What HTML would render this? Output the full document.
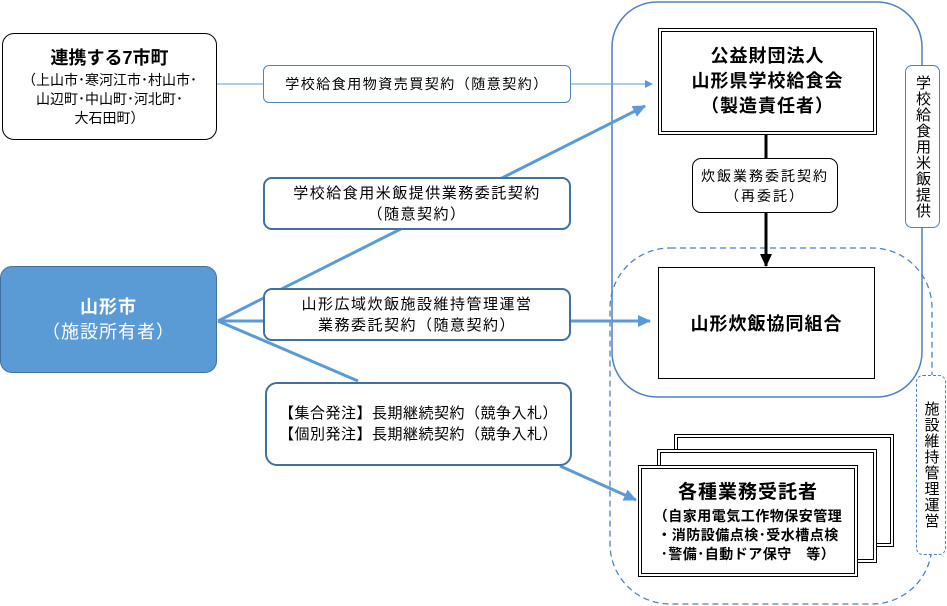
<!DOCTYPE html>
<html><head><meta charset="utf-8"><style>
body{margin:0;width:947px;height:606px;background:#fff;position:relative;overflow:hidden;font-family:"Liberation Sans","Noto Sans CJK JP",sans-serif;color:#000}
.b{position:absolute;box-sizing:border-box;display:flex;flex-direction:column;align-items:center;justify-content:center;text-align:center;background:#fff;white-space:nowrap}
.v{writing-mode:vertical-rl;letter-spacing:1px}
</style></head><body>
<svg width="947" height="606" style="position:absolute;left:0;top:0">
<defs>
<marker id="a" markerWidth="8" markerHeight="8" refX="7" refY="4" orient="auto" markerUnits="userSpaceOnUse"><path d="M0,0L8,4L0,8z" fill="#5b9bd5"/></marker>
<marker id="a2" markerWidth="14" markerHeight="12" refX="12" refY="6" orient="auto" markerUnits="userSpaceOnUse"><path d="M0,0L13,6L0,12z" fill="#5b9bd5"/></marker>
<marker id="k" markerWidth="14" markerHeight="12" refX="12" refY="6" orient="auto" markerUnits="userSpaceOnUse"><path d="M0,0L13,6L0,12z" fill="#000"/></marker>
</defs>
<rect x="612" y="2" width="310" height="395" rx="45" fill="none" stroke="#4f81bd" stroke-width="1.5"/>
<rect x="610" y="248" width="322" height="356" rx="60" fill="none" stroke="#4f81bd" stroke-width="1.3" stroke-dasharray="6,4"/>
<line x1="217" y1="84" x2="652" y2="84" stroke="#5b9bd5" stroke-width="1" marker-end="url(#a)"/>
<line x1="218" y1="321" x2="645" y2="106" stroke="#5b9bd5" stroke-width="3" marker-end="url(#a2)"/>
<line x1="218" y1="321" x2="650" y2="321" stroke="#5b9bd5" stroke-width="3" marker-end="url(#a2)"/>
<line x1="218" y1="321" x2="358" y2="381" stroke="#5b9bd5" stroke-width="3"/>
<line x1="560" y1="466" x2="636" y2="500" stroke="#5b9bd5" stroke-width="3" marker-end="url(#a2)"/>
<line x1="766" y1="135" x2="766" y2="158" stroke="#000" stroke-width="3"/>
<line x1="766" y1="213" x2="766" y2="266" stroke="#000" stroke-width="3" marker-end="url(#k)"/>
</svg>
<div class="b" style="left:2px;top:33px;width:215px;height:107px;border:1.5px solid #000;border-radius:12px;font-size:14px;line-height:19px"><b style="font-size:18px;line-height:25px">連携する7市町</b>（上山市･寒河江市･村山市･<br>山辺町･中山町･河北町･<br>大石田町）</div>
<div class="b" style="left:0;top:266px;width:217px;height:107px;background:#5b9bd5;border:1.5px solid #41719c;border-radius:12px;color:#fff;font-size:18px;line-height:25px;letter-spacing:1px"><b>山形市</b>（施設所有者）</div>
<div class="b" style="left:263px;top:65px;width:308px;height:38px;border:1px solid #4f81bd;border-radius:6px;font-size:14px;letter-spacing:1.5px">学校給食用物資売買契約（随意契約）</div>
<div class="b" style="left:263px;top:177px;width:308px;height:53px;border:2.5px solid #41719c;border-radius:9px;font-size:15px;line-height:21px;letter-spacing:1.5px">学校給食用米飯提供業務委託契約<br>（随意契約）</div>
<div class="b" style="left:263px;top:288px;width:308px;height:53px;border:2.5px solid #41719c;border-radius:9px;font-size:15px;line-height:21px;letter-spacing:1.5px">山形広域炊飯施設維持管理運営<br>業務委託契約（随意契約）</div>
<div class="b" style="left:265px;top:382px;width:307px;height:84px;border:2.5px solid #41719c;border-radius:12px;font-size:15px;line-height:21px;letter-spacing:0.5px">【集合発注】長期継続契約（競争入札）<br>【個別発注】長期継続契約（競争入札）</div>
<div class="b" style="left:658px;top:28px;width:219px;height:107px;border:4px double #000;font-size:18px;line-height:25px;font-weight:bold;letter-spacing:1px">公益財団法人<br>山形県学校給食会<br>（製造責任者）</div>
<div class="b" style="left:692px;top:158px;width:146px;height:55px;border:1px solid #000;border-radius:9px;font-size:14px;line-height:20px;letter-spacing:2px">炊飯業務委託契約<br>（再委託）</div>
<div class="b" style="left:658px;top:267px;width:217px;height:112px;border:1.5px solid #000;font-size:18px;font-weight:bold;letter-spacing:1px">山形炊飯協同組合</div>
<div class="b v" style="left:905px;top:65px;width:35px;height:163px;border:1px solid #4f81bd;border-radius:7px;font-size:15px">学校給食用米飯提供</div>
<div class="b v" style="left:916px;top:375px;width:30px;height:180px;border:1.3px dashed #4f81bd;border-radius:7px;font-size:15px">施設維持管理運営</div>
<div class="b" style="left:674px;top:434px;width:220px;height:113px;border:4px double #000"></div>
<div class="b" style="left:657px;top:449px;width:220px;height:114px;border:4px double #000"></div>
<div class="b" style="left:638px;top:465px;width:220px;height:112px;border:4px double #000;font-size:14px;line-height:19px;font-weight:bold;letter-spacing:0.5px"><span style="font-size:19px;line-height:28px;letter-spacing:1px">各種業務受託者</span>（自家用電気工作物保安管理<br>・消防設備点検･受水槽点検<br>･警備･自動ドア保守　等）</div>
</body></html>
